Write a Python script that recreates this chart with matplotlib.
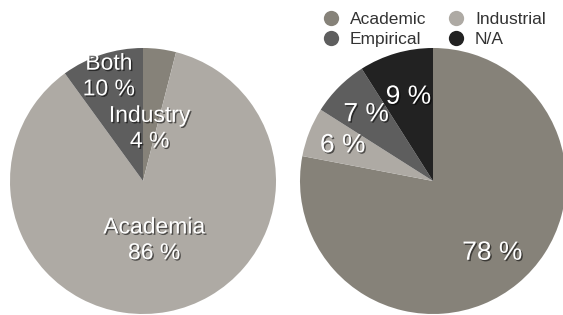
import matplotlib
matplotlib.use("Agg")
import numpy as np
import matplotlib.pyplot as plt
import matplotlib.patheffects as pe
from matplotlib.lines import Line2D

# Data
left_labels = ["Industry", "Academia", "Both"]
left_values = [4, 86, 10]
left_colors = ["#868279", "#aeaaa4", "#5e5e5e"]
left_text_r = [0.40, 0.45, 0.83]

right_labels = ["Academic", "Industrial", "Empirical", "N/A"]
right_values = [78, 6, 7, 9]
right_colors = ["#868279", "#aeaaa4", "#5e5e5e", "#222222"]
right_text_r = [0.70, 0.73, 0.71, 0.66]

plt.rcParams['font.family'] = ['Liberation Sans', 'DejaVu Sans']

fig = plt.figure(figsize=(5.63, 3.15), dpi=100)
W, H = 563, 315
R = 133

shadow = [pe.SimplePatchShadow(offset=(1, -1), shadow_rgbFace="black", alpha=0.55), pe.Normal()]


def make_ax(cx, cy):
    ax = fig.add_axes([(cx - R) / W, (H - cy - R) / H, 2 * R / W, 2 * R / H])
    ax.axis("off")
    return ax


def fix_limits(ax):
    ax.set_xlim(-1, 1)
    ax.set_ylim(-1, 1)
    ax.set_aspect("equal")


def put_labels(ax, wedges, texts, radii, size):
    for w, t, r in zip(wedges, texts, radii):
        mid = np.deg2rad((w.theta1 + w.theta2) / 2)
        ax.text(r * np.cos(mid), r * np.sin(mid), t, color="white", fontsize=size,
                ha="center", va="center", linespacing=1.15, path_effects=shadow)


# Left pie
ax1 = make_ax(143, 181)
w1, _ = ax1.pie(left_values, colors=left_colors, startangle=90, counterclock=False,
                radius=1, wedgeprops=dict(linewidth=0))
fix_limits(ax1)
put_labels(ax1, w1, [f"{l}\n{v} %" for l, v in zip(left_labels, left_values)], left_text_r, 16.5)

# Right pie
ax2 = make_ax(433, 181)
w2, _ = ax2.pie(right_values, colors=right_colors, startangle=90, counterclock=False,
                radius=1, wedgeprops=dict(linewidth=0))
fix_limits(ax2)
put_labels(ax2, w2, [f"{v} %" for v in right_values], right_text_r, 19)

# Legend (row 1: Academic, Industrial / row 2: Empirical, N/A)
order = [0, 2, 1, 3]
handles = [Line2D([], [], marker="o", linestyle="", markersize=11,
                  markerfacecolor=right_colors[i], markeredgewidth=0) for i in order]
fig.legend(handles, [right_labels[i] for i in order], ncol=2, frameon=False,
           loc="upper left", bbox_to_anchor=(322 / W, 1 - 12 / H), fontsize=12.5,
           handletextpad=0.6, columnspacing=1.2, borderpad=0, borderaxespad=0,
           labelspacing=0.25, handlelength=1.0, labelcolor="#333333")

fig.savefig("out.png", dpi=100)
